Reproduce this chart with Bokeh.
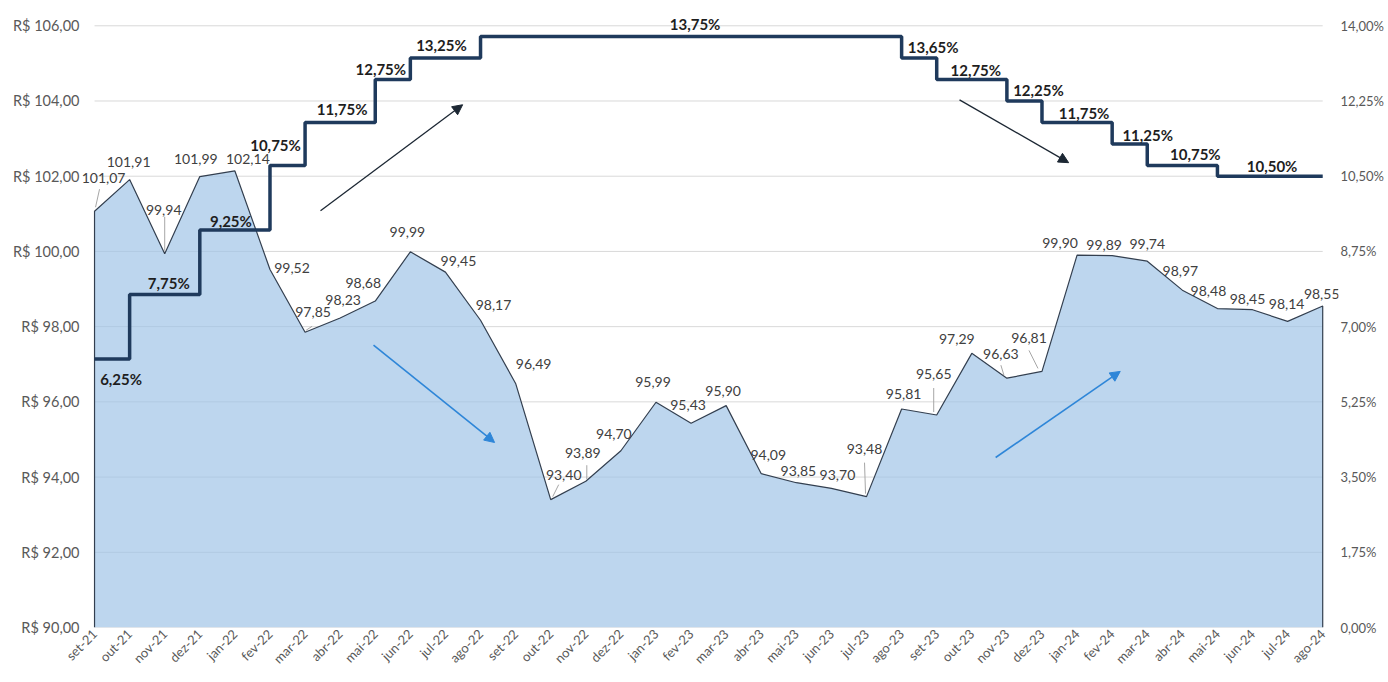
import numpy as np
from bokeh.plotting import figure
from bokeh.models import (ColumnDataSource, Range1d, LinearAxis, FixedTicker,
                          CustomJSTickFormatter, Arrow, NormalHead, LabelSet)
from bokeh.core.properties import value
from bokeh.embed import file_html
from bokeh.resources import INLINE

# ---------------- data ----------------
months = ["set-21", "out-21", "nov-21", "dez-21", "jan-22", "fev-22", "mar-22", "abr-22",
          "mai-22", "jun-22", "jul-22", "ago-22", "set-22", "out-22", "nov-22", "dez-22",
          "jan-23", "fev-23", "mar-23", "abr-23", "mai-23", "jun-23", "jul-23", "ago-23",
          "set-23", "out-23", "nov-23", "dez-23", "jan-24", "fev-24", "mar-24", "abr-24",
          "mai-24", "jun-24", "jul-24", "ago-24"]

price = [101.07, 101.91, 99.94, 101.99, 102.14, 99.52, 97.85, 98.23, 98.68, 99.99, 99.45, 98.17,
         96.49, 93.40, 93.89, 94.70, 95.99, 95.43, 95.90, 94.09, 93.85, 93.70, 93.48, 95.81,
         95.65, 97.29, 96.63, 96.81, 99.90, 99.89, 99.74, 98.97, 98.48, 98.45, 98.14, 98.55]

selic = [6.25, 7.75, 7.75, 9.25, 9.25, 10.75, 11.75, 11.75, 12.75, 13.25, 13.25, 13.75,
         13.75, 13.75, 13.75, 13.75, 13.75, 13.75, 13.75, 13.75, 13.75, 13.75, 13.75, 13.25,
         12.75, 12.75, 12.25, 11.75, 11.75, 11.25, 10.75, 10.75, 10.50, 10.50, 10.50, 10.50]

selic_labels = ["6,25%", "7,75%", "9,25%", "10,75%", "11,75%", "12,75%", "13,25%", "13,75%",
                "13,65%", "12,75%", "12,25%", "11,75%", "11,25%", "10,75%", "10,50%"]

price_ticks = [90, 92, 94, 96, 98, 100, 102, 104, 106]
rate_ticks = [0, 1.75, 3.5, 5.25, 7.0, 8.75, 10.5, 12.25, 14.0]

# ---------------- label placement (screen pixel offsets, negative = up) ----------------
price_dx = [9, -1, -1, -4, 13, 22, 8, 3, -12, -3, 13, 13,
            18, 13, -3, -7, -3, -3, -3, 7, 2, 6, -2, 2,
            -3, -15, -6, -13, -17, -8, 0, -2, -9, -5, -1, -1]
price_dy = [-33, -18, -44, -18, -12, -1, -20, -18, -18, -20, -11, -15,
            -19, -25, -28, -17, -20, -18, -15, -19, -12, -13, -48, -15,
            -41, -14, -24, -33, -12, -11, -17, -19, -18, -11, -17, -12]
selic_dx = [9, 4, -4, -12, 2, -12, -4, 4, 14, 4, 14, 7, 18, 13, 2]
selic_dy = [20, -11, -9, -20, -13, -11, -13, -13, -11, -10, -11, -9, -9, -11, -10]

# leader lines: (index, start dx, start dy, end dx, end dy) in px from the point
leaders = [(0, 1, -4, 5, -22), (2, 0, -3, 0, -37), (6, 1, -2, 7, -6),
           (13, 2, -3, 8, -15), (14, 1, -2, 1, -16), (22, -1, -3, -2, -34),
           (24, -3, -3, -3, -27), (26, -3, -3, -6, -13), (27, -4, -3, -13, -21)]

# trend arrows in data units (month index, R$)
arrows = [(6.44, 101.08, 10.49, 103.90, "#1C2733", 1.3),
          (24.65, 104.03, 27.76, 102.36, "#1C2733", 1.3),
          (7.95, 97.51, 11.40, 94.92, "#2E86D8", 1.6),
          (25.68, 94.52, 29.23, 96.81, "#2E86D8", 1.6)]

# ---------------- figure ----------------
PX_X = 1228 / 35.0          # px per month
PX_Y = 602 / 16.0           # px per R$
X0, X1 = -0.4, 35.45        # small margins so labels are not clipped
YMIN, YMAX = 90.0, 106.3
x = list(range(len(months)))

p = figure(width=1388, height=682, output_backend="svg", toolbar_location=None,
           x_range=Range1d(X0, X1), y_range=Range1d(YMIN, YMAX),
           min_border_left=80, min_border_right=50, min_border_top=14, min_border_bottom=55)
p.outline_line_color = None
p.background_fill_color = "white"
p.extra_y_ranges = {"rate": Range1d(0, (YMAX - YMIN) * 14 / 16)}

# axes
p.yaxis.ticker = FixedTicker(ticks=price_ticks)
p.yaxis.formatter = CustomJSTickFormatter(code='return "R$ " + tick.toFixed(2).replace(".", ",");')
p.xaxis.ticker = FixedTicker(ticks=x)
p.xaxis.formatter = CustomJSTickFormatter(args=dict(m=months), code="return m[Math.round(tick)];")
p.xaxis.major_label_orientation = np.pi / 4

right = LinearAxis(y_range_name="rate", ticker=FixedTicker(ticks=rate_ticks),
                   formatter=CustomJSTickFormatter(code='return tick.toFixed(2).replace(".", ",") + "%";'))
p.add_layout(right, "right")

for ax in [p.yaxis[0], p.xaxis[0], right]:
    ax.major_tick_line_color = None
    ax.minor_tick_line_color = None
    ax.major_tick_out = 0
    ax.major_tick_in = 0
    ax.axis_line_color = None
    ax.major_label_text_font = "Lato"
    ax.major_label_text_color = "#595959"
p.yaxis[0].major_label_text_font_size = "14.5px"
right.major_label_text_font_size = "13px"
p.xaxis.major_label_text_font_size = "13px"
p.yaxis[0].major_label_standoff = 1
right.major_label_standoff = 2
p.xaxis.major_label_standoff = 4

p.xgrid.grid_line_color = None
p.ygrid.grid_line_color = None

# horizontal gridlines spanning the category axis
p.segment(x0=[x[0]] * len(price_ticks), x1=[x[-1]] * len(price_ticks),
          y0=price_ticks, y1=price_ticks, line_color="#D9D9D9", line_width=1)

# area
p.varea(x=x, y1=[YMIN] * len(x), y2=price, fill_color="#9DC3E6", fill_alpha=0.68)
p.line(x=[x[0]] + x + [x[-1]], y=[YMIN] + price + [YMIN], line_color="#333F4F", line_width=1.2)

# leader lines
p.segment(x0=[x[i] + a / PX_X for i, a, b, c, d in leaders],
          y0=[price[i] - b / PX_Y for i, a, b, c, d in leaders],
          x1=[x[i] + c / PX_X for i, a, b, c, d in leaders],
          y1=[price[i] - d / PX_Y for i, a, b, c, d in leaders],
          line_color="#A6A6A6", line_width=1)

# step line (Selic)
p.step(x=x, y=selic, mode="after", y_range_name="rate", line_color="#1F3A5C", line_width=3.5)

# arrows
for x0, y0, x1, y1, c, w in arrows:
    p.add_layout(Arrow(x_start=x0, y_start=y0, x_end=x1, y_end=y1, line_color=c, line_width=w,
                       end=NormalHead(size=10, fill_color=c, line_color=c)))

# price labels
src = ColumnDataSource(dict(x=x, y=price, t=[f"{v:.2f}".replace(".", ",") for v in price],
                            dx=price_dx, dy=[-d for d in price_dy]))
p.add_layout(LabelSet(x="x", y="y", text="t", x_offset="dx", y_offset="dy", source=src,
                      text_align="center", text_baseline="middle", text_font=value("Lato"),
                      text_font_size="14px", text_color="#404040"))

# selic labels at the middle of each step run
starts = [i for i in range(len(selic)) if i == 0 or selic[i] != selic[i - 1]]
ends = starts[1:] + [len(selic) - 1]
rsrc = ColumnDataSource(dict(x=[(a + b) / 2 for a, b in zip(starts, ends)],
                             y=[selic[a] for a in starts], t=selic_labels,
                             dx=selic_dx, dy=[-d for d in selic_dy]))
p.add_layout(LabelSet(x="x", y="y", text="t", x_offset="dx", y_offset="dy", source=rsrc,
                      y_range_name="rate", text_align="center", text_baseline="middle",
                      text_font=value("Lato"), text_font_size="15px", text_font_style="bold",
                      text_color="#1E1E1E"))

open("out.html", "w").write(file_html(p, INLINE))
